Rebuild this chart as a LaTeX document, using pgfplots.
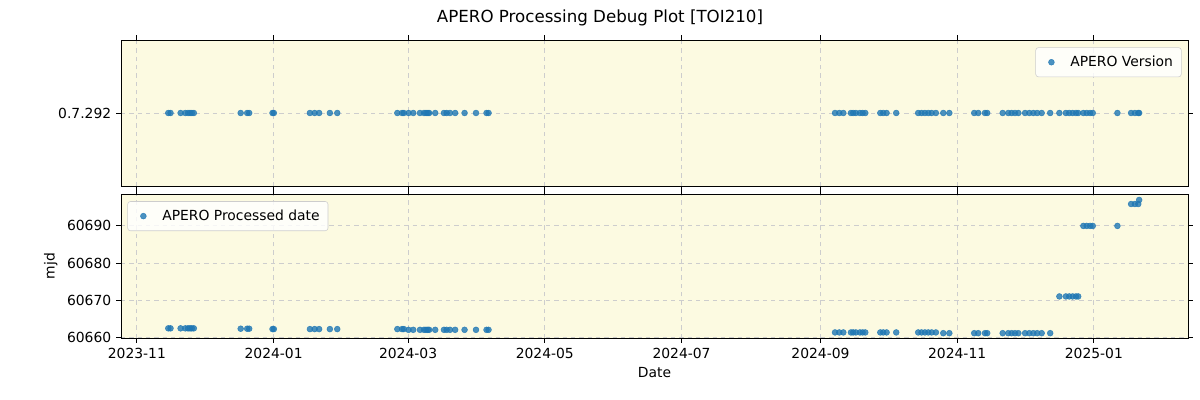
\documentclass[border=0pt]{standalone}
\usepackage{pgfplots}
\pgfplotsset{compat=1.18}
\usepackage{pgfplotstable}
\usepackage{fontspec}
\setmainfont{DejaVu Sans}
\definecolor{bgc}{RGB}{252,250,225}
\definecolor{mplblue}{RGB}{31,119,180}
\definecolor{gridc}{RGB}{205,205,205}

\pgfplotstableread{
d v
14 60662.4
15 60662.4
19.5 60662.4
21.6 60662.4
22.8 60662.4
23.7 60662.4
24.5 60662.4
25.4 60662.4
46.3 60662.3
49.2 60662.3
50.1 60662.3
60.5 60662.2
61.1 60662.2
77.2 60662.2
79.3 60662.2
81.3 60662.2
86.1 60662.2
89.4 60662.2
116.2 60662.2
118.3 60662.2
119.1 60662.2
121.2 60662.0
123.3 60662.0
126.3 60662.0
128.1 60662.0
129 60662.0
129.8 60662.0
130.4 60662.0
133.1 60662.0
137 60662.0
138.2 60662.0
139.7 60662.0
142 60662.0
146.2 60662.0
151.3 60662.0
156 60662.0
156.9 60662.0
311.5 60661.3
313.4 60661.3
315.2 60661.3
318.6 60661.3
319.6 60661.3
320.8 60661.3
322.6 60661.3
323.8 60661.3
325.0 60661.3
331.7 60661.3
333.0 60661.3
334.5 60661.3
338.8 60661.3
348.6 60661.3
350.1 60661.3
351.6 60661.3
353.1 60661.3
354.6 60661.3
356.5 60661.3
359.8 60661.1
362.5 60661.1
373.6 60661.1
375.4 60661.1
378.4 60661.1
379.4 60661.1
386.3 60661.1
388.8 60661.1
390.3 60661.1
391.8 60661.1
393.3 60661.1
396.3 60661.1
398.2 60661.1
400.0 60661.1
401.7 60661.1
403.7 60661.1
407.5 60661.1
411.6 60671.0
414.5 60671.0
416 60671.0
417.5 60671.0
419 60671.0
420 60671.0
422.3 60690.0
423.8 60690.0
425.3 60690.0
426.5 60690.0
437.5 60690.0
443.6 60695.9
445.3 60695.9
446.8 60695.9
447.2 60697.0
}\datatable

\begin{document}
\begin{tikzpicture}
\useasboundingbox (0,0) rectangle (864pt,-288pt);
\node[font=\fontsize{12}{14}\selectfont] at (432pt,-12.6pt) {APERO Processing Debug Plot [TOI210]};
\pgfplotsset{
  common/.style={
    scale only axis,
    width=768.24pt,
    xmin=-7.1, xmax=469,
    xtick={0,61,121,182,243,305,366,427},
    axis background/.style={fill=bgc},
    grid=major,
    major grid style={gridc, dashed, line width=0.6pt},
    tick align=outside,
    major tick length=3.5pt,
    tick style={black, line width=0.6pt},
    axis line style={line width=0.7pt},
    tick label style={font=\fontsize{10}{12}\selectfont},
    scaled ticks=false,
    /pgf/number format/.cd, fixed, precision=0, 1000 sep={}, assume math mode=true,
    /pgfplots/.cd,
    legend cell align=left,
    legend style={font=\fontsize{10}{12}\selectfont, draw=gridc, fill=white, fill opacity=0.8, text opacity=1, rounded corners=2pt, inner sep=4pt},
    legend image code/.code={\path (0cm,0cm) (0.65cm,0cm); \draw[mark repeat=2,mark phase=2] plot coordinates {(0cm,0cm) (0.25cm,0cm) (0.5cm,0cm)};},
  }
}
\begin{axis}[common,
  at={(87.12pt,-28.8pt)}, anchor=north west,
  height=105.12pt,
  ymin=-1, ymax=1,
  ytick={0}, yticklabels={0.7.292},
  xticklabels={},
  legend style={at={(0.994,0.95)}, anchor=north east},
]
\addplot[only marks, mark=*, mark size=2.1pt, mplblue, fill opacity=0.8, draw opacity=0.8] table[x=d, y expr=0] {\datatable};
\addlegendentry{APERO Version}
\end{axis}
\begin{axis}[common,
  at={(87.12pt,-139.68pt)}, anchor=north west,
  height=103.68pt,
  ymin=60659.8, ymax=60698.6,
  ytick={60660,60670,60680,60690},
  xticklabels={2023-11,2024-01,2024-03,2024-05,2024-07,2024-09,2024-11,2025-01},
  legend style={at={(0.006,0.95)}, anchor=north west},
  xlabel={Date}, ylabel={mjd},
  label style={font=\fontsize{10}{12}\selectfont},
]
\addplot[only marks, mark=*, mark size=2.1pt, mplblue, fill opacity=0.8, draw opacity=0.8] table[x=d, y=v] {\datatable};
\addlegendentry{APERO Processed date}
\end{axis}
\end{tikzpicture}
\end{document}
